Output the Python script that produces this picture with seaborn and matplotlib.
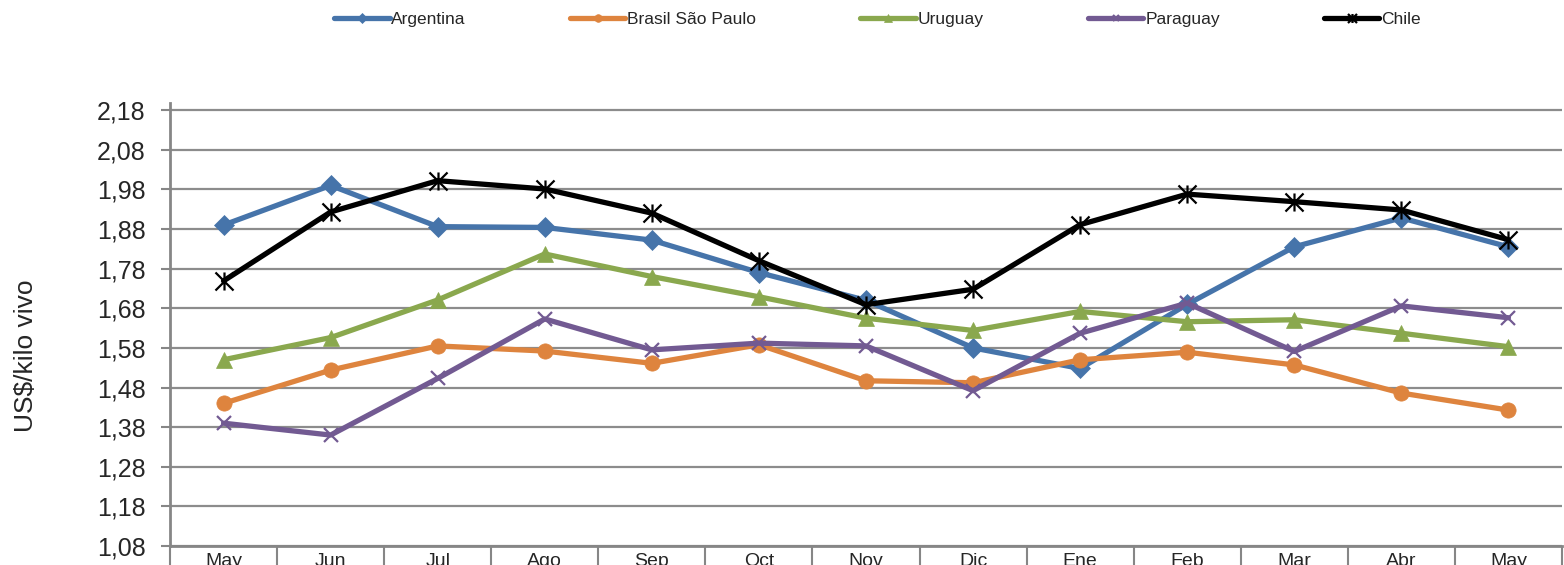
import pandas as pd
import numpy as np
import seaborn as sns
import matplotlib.pyplot as plt
from matplotlib.path import Path
from matplotlib.ticker import FuncFormatter, FixedLocator

months = ['May', 'Jun', 'Jul', 'Ago', 'Sep', 'Oct', 'Nov', 'Dic', 'Ene', 'Feb', 'Mar', 'Abr', 'May']
paises = ['Argentina', 'Brasil São Paulo', 'Uruguay', 'Paraguay', 'Chile']

argentina = [1.89, 1.99, 1.886, 1.884, 1.852, 1.77, 1.70, 1.58, 1.528, 1.69, 1.835, 1.908, 1.835]
brasil = [1.44, 1.524, 1.585, 1.572, 1.541, 1.588, 1.497, 1.492, 1.55, 1.569, 1.537, 1.466, 1.423]
uruguay = [1.55, 1.606, 1.701, 1.817, 1.76, 1.709, 1.655, 1.624, 1.672, 1.646, 1.651, 1.617, 1.583]
paraguay = [1.39, 1.36, 1.503, 1.653, 1.575, 1.592, 1.585, 1.472, 1.617, 1.693, 1.571, 1.686, 1.656]
chile = [1.749, 1.923, 2.002, 1.981, 1.92, 1.80, 1.689, 1.728, 1.891, 1.968, 1.949, 1.928, 1.853]

colores = ['#4674AA', '#DE843E', '#8AA84E', '#725A92', '#000000']

# excel-style star: an X plus a vertical bar
star = Path([(-1, -1), (1, 1), (-1, 1), (1, -1), (0, -1), (0, 1)],
            [Path.MOVETO, Path.LINETO, Path.MOVETO, Path.LINETO, Path.MOVETO, Path.LINETO])
marcadores = ['D', 'o', '^', 'x', star]

sns.set_style('white')
plt.rcParams['font.family'] = ['Liberation Sans', 'DejaVu Sans']

# long format for seaborn
series = [argentina, brasil, uruguay, paraguay, chile]
rows = []
for p, vals in zip(paises, series):
    for i, v in enumerate(vals):
        rows.append({'pos': i, 'valor': v, 'pais': p})
data = pd.DataFrame(rows)

fig = plt.figure(figsize=(15.64, 5.65), dpi=100)
ax = fig.add_axes([0.1087, 0.0336, 0.89, 0.7841])

sns.lineplot(data=data, x='pos', y='valor', hue='pais',
             hue_order=paises, palette=dict(zip(paises, colores)),
             linewidth=3.8, legend=False, ax=ax, zorder=3)

# markers set afterwards (seaborn won't mix filled and line markers)
sizes = [10, 11, 11, 10, 13]
for ln, c, s, m in zip(ax.lines, colores, sizes, marcadores):
    ln.set_marker(m)
    ln.set_markersize(s)
    ln.set_markeredgecolor(c)
    ln.set_markerfacecolor(c)
    if m == 'x' or isinstance(m, Path):
        ln.set_markeredgewidth(1.6)
    else:
        ln.set_markeredgewidth(0.5)

ax.set_xlim(-0.5, 12.5)
ax.set_ylim(1.08, 2.198)
ax.set_yticks(np.arange(1.08, 2.19, 0.1))
ax.yaxis.set_major_formatter(FuncFormatter(lambda v, p: f'{v:.2f}'.replace('.', ',')))
ax.tick_params(axis='y', labelsize=18, direction='out', length=6.5, width=1.5,
               color='#868686', left=True, pad=11)

ax.xaxis.set_major_locator(FixedLocator(np.arange(-0.5, 13, 1)))
ax.xaxis.set_minor_locator(FixedLocator(np.arange(0, 13, 1)))
ax.set_xticklabels([], minor=False)
ax.set_xticklabels(months, minor=True)
ax.tick_params(axis='x', which='major', direction='out', length=30, width=1.5,
               color='#868686', bottom=True)
ax.tick_params(axis='x', which='minor', length=0, labelsize=14, pad=5)

ax.grid(axis='y', color='#8C8C8C', linewidth=1.6)
ax.grid(axis='x', visible=False)
ax.set_axisbelow(True)
for side in ['top', 'right']:
    ax.spines[side].set_visible(False)
for side in ['left', 'bottom']:
    ax.spines[side].set_color('#868686')
    ax.spines[side].set_linewidth(2)

ax.set_xlabel('')
ax.set_ylabel('US$/kilo vivo', fontsize=19)
ax.yaxis.set_label_coords(-0.095, 0.43)

fig.legend(ax.lines[:5], paises, loc='center', bbox_to_anchor=(0.561, 0.966),
           ncol=5, frameon=False, fontsize=12.5, markerscale=0.5,
           handlelength=3.2, handletextpad=0.1, columnspacing=6.0)

fig.savefig('out.png', dpi=100)
